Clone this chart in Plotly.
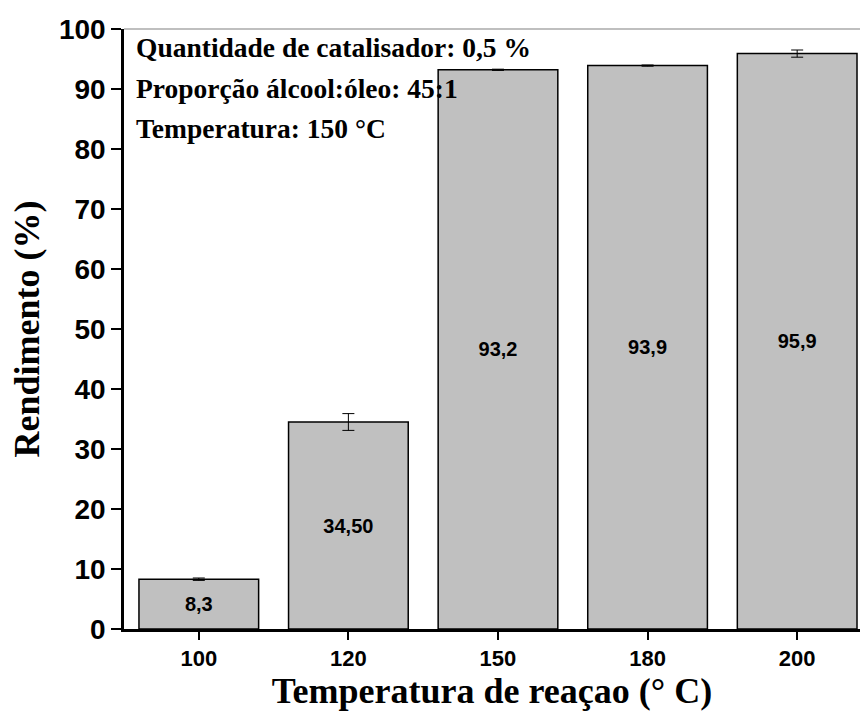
import plotly.graph_objects as go

# Reaction temperature (°C) and biodiesel yield (%)
temperaturas = ["100", "120", "150", "180", "200"]
rendimento = [8.3, 34.5, 93.2, 93.9, 95.9]
desvio = [0.2, 1.4, 0.1, 0.1, 0.6]
rotulos = ["8,3", "34,50", "93,2", "93,9", "95,9"]

condicoes = [
    "Quantidade de catalisador: 0,5 %",
    "Proporção álcool:óleo: 45:1",
    "Temperatura: 150 °C",
]

SERIF = "Liberation Serif, Times New Roman, serif"
SANS = "Liberation Sans, Arial, sans-serif"

TOP, PLOT_H = 29, 600

fig = go.Figure()
fig.add_trace(go.Bar(
    x=temperaturas,
    y=rendimento,
    width=0.8,
    marker=dict(color="#c0c0c0", line=dict(color="black", width=1.5)),
    error_y=dict(type="data", array=desvio, visible=True,
                 color="black", thickness=1, width=6),
    text=rotulos,
    textposition="inside",
    insidetextanchor="middle",
    textangle=0,
    constraintext="none",
    textfont=dict(family=SANS, size=20, color="black", weight="bold"),
    showlegend=False,
))

# Experimental conditions printed in the upper-left corner
for i, linha in enumerate(condicoes):
    centro_px = 48 + i * 40
    fig.add_annotation(
        x=0.013, xref="paper", y=1 - (centro_px - TOP) / PLOT_H, yref="paper",
        text=f"<b>{linha}</b>", showarrow=False,
        xanchor="left", yanchor="middle",
        font=dict(family=SERIF, size=27.5, color="black"),
    )

# thin grey frame line along the top of the plot
fig.add_shape(type="line", xref="paper", yref="paper",
              x0=0, x1=1, y0=1, y1=1,
              line=dict(color="#808080", width=1.2))

fig.update_layout(
    width=860, height=715,
    margin=dict(l=124, r=0, t=TOP, b=86),
    plot_bgcolor="white", paper_bgcolor="white",
    bargap=0.2,
    xaxis=dict(
        type="category",
        range=[-0.5, 4.42],
        showline=True, linecolor="black", linewidth=2.5,
        ticks="outside", ticklen=8, tickwidth=2, tickcolor="black",
        tickfont=dict(family=SANS, size=22, color="black", weight="bold"),
        title=dict(text="<b>Temperatura de reaçao (° C)</b>",
                   font=dict(family=SERIF, size=36, color="black"),
                   standoff=3),
        showgrid=False, zeroline=False,
    ),
    yaxis=dict(
        range=[0, 100],
        tickvals=[0, 10, 20, 30, 40, 50, 60, 70, 80, 90, 100],
        showline=True, linecolor="black", linewidth=2.5,
        ticks="outside", ticklen=10, tickwidth=2, tickcolor="black",
        tickfont=dict(family=SANS, size=28, color="black", weight="bold"),
        title=dict(text="<b>Rendimento (%)</b>",
                   font=dict(family=SERIF, size=36, color="black"),
                   standoff=9),
        showgrid=False, zeroline=False,
    ),
)

fig.write_html("out.html")
